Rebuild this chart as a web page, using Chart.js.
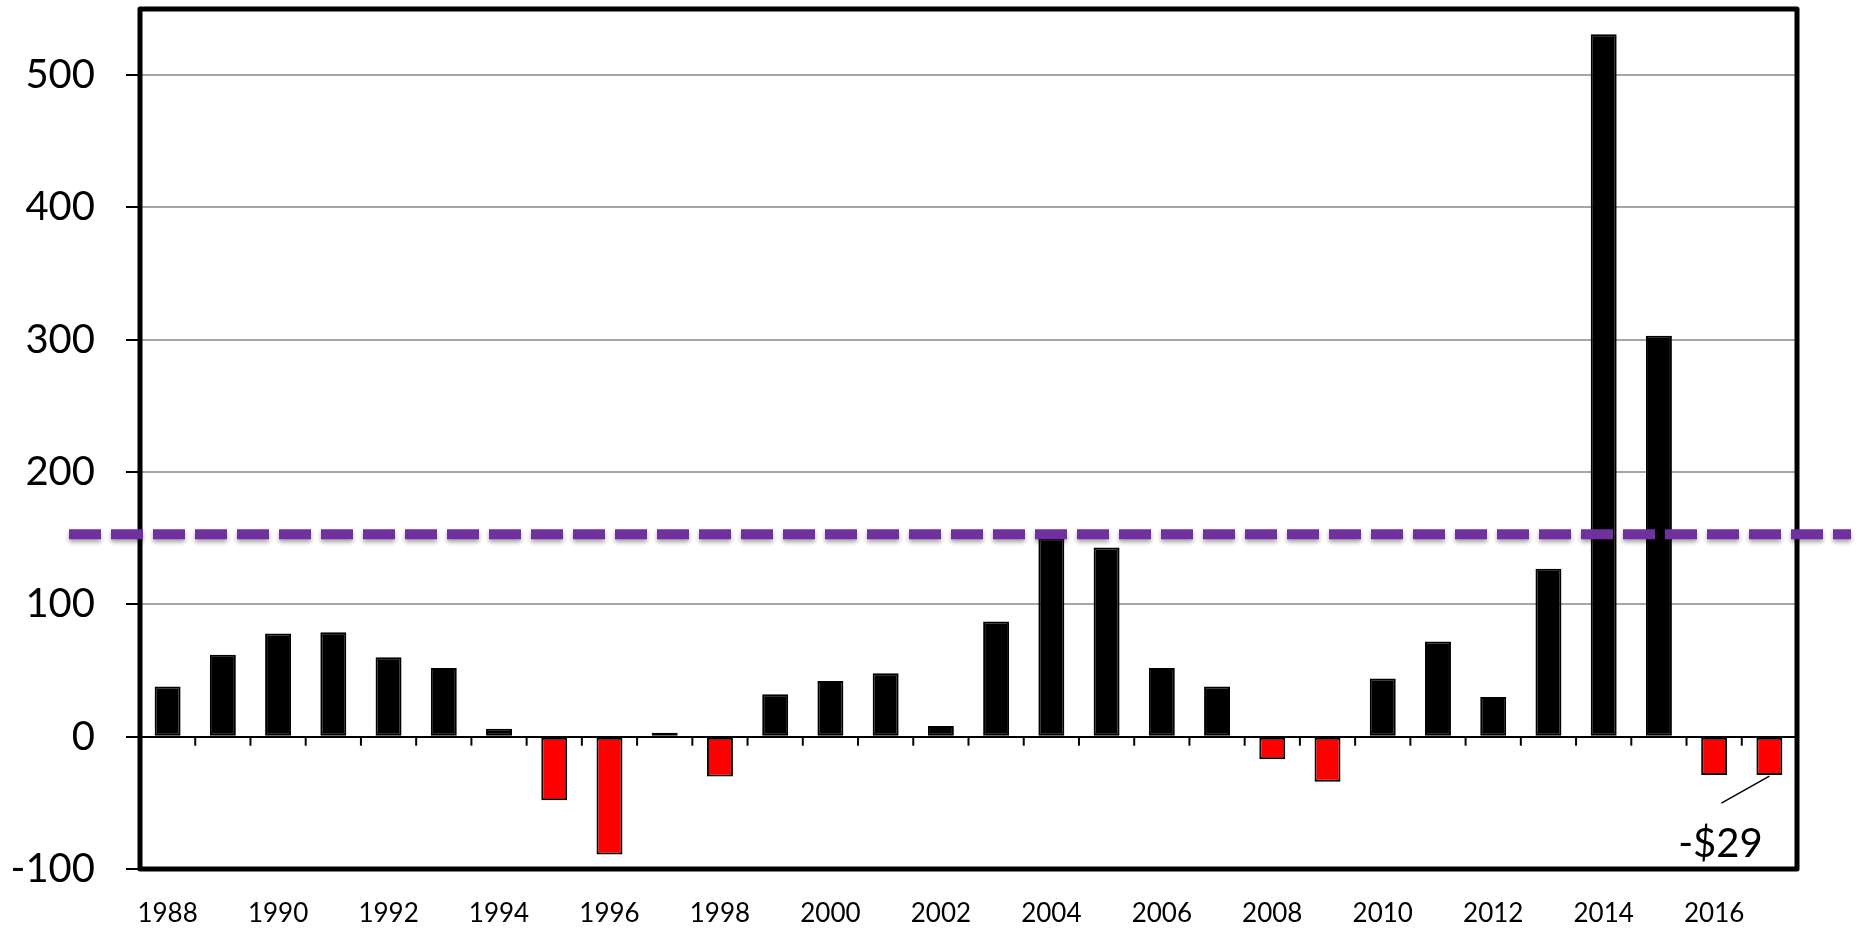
<!DOCTYPE html>
<html>
<head>
<meta charset="utf-8">
<script src="https://cdn.jsdelivr.net/npm/chart.js@4.4.1/dist/chart.umd.min.js"></script>
<style>
  body { margin: 0; background: #fff; }
  #wrap { width: 1865px; height: 930px; }
</style>
</head>
<body>
<div id="wrap"><canvas id="bar-chart"></canvas></div>
<script>
const years = ["1988", "1989", "1990", "1991", "1992", "1993", "1994", "1995", "1996", "1997",
  "1998", "1999", "2000", "2001", "2002", "2003", "2004", "2005", "2006", "2007",
  "2008", "2009", "2010", "2011", "2012", "2013", "2014", "2015", "2016", "2017"];
const values = [38, 62, 78, 79, 60, 52, 6, -48, -89, 3,
  -30, 32, 42, 48, 8, 87, 150, 143, 52, 38,
  -17, -34, 44, 72, 30, 127, 531, 303, -29, -29];
const yTicks = [-100, 0, 100, 200, 300, 400, 500];
const avgLine = 153;
const noteLabel = "-$29";
const noteIndex = 29;

const extras = {
  id: "extras",
  beforeDatasetsDraw(chart) {
    // small ticks on the zero line between years
    const ctx = chart.ctx;
    const x = chart.scales.x;
    const y0 = chart.scales.y.getPixelForValue(0);
    ctx.save();
    ctx.strokeStyle = "#000";
    ctx.lineWidth = 2;
    for (let i = 1; i < years.length; i++) {
      const px = (x.getPixelForValue(i - 1) + x.getPixelForValue(i)) / 2;
      ctx.beginPath();
      ctx.moveTo(px, y0);
      ctx.lineTo(px, y0 + 9);
      ctx.stroke();
    }
    ctx.restore();
  },
  afterDatasetsDraw(chart) {
    const ctx = chart.ctx;
    const a = chart.chartArea;
    const y = chart.scales.y;

    // plot frame
    ctx.save();
    ctx.strokeStyle = "#000";
    ctx.lineWidth = 5;
    ctx.lineJoin = "round";
    ctx.strokeRect(a.left, a.top, a.right - a.left, a.bottom - a.top);
    ctx.restore();

    // dashed average line
    const py = y.getPixelForValue(avgLine);
    ctx.save();
    ctx.strokeStyle = "#7030a0";
    ctx.lineWidth = 10;
    ctx.setLineDash([32, 10]);
    ctx.shadowColor = "rgba(0,0,0,0.35)";
    ctx.shadowBlur = 4;
    ctx.shadowOffsetY = 3;
    ctx.beginPath();
    ctx.moveTo(a.left - 71, py);
    ctx.lineTo(a.right + 54, py);
    ctx.stroke();
    ctx.restore();

    // note on the last bar
    const bar = chart.getDatasetMeta(0).data[noteIndex];
    ctx.save();
    ctx.strokeStyle = "#000";
    ctx.lineWidth = 1.5;
    ctx.beginPath();
    ctx.moveTo(bar.x, bar.y + 1);
    ctx.lineTo(bar.x - 48, bar.y + 28);
    ctx.stroke();
    ctx.fillStyle = "#000";
    ctx.font = "40px Lato";
    ctx.textAlign = "center";
    ctx.textBaseline = "alphabetic";
    ctx.fillText(noteLabel, bar.x - 49, bar.y + 82);
    ctx.restore();
  }
};

new Chart(document.getElementById("bar-chart"), {
  type: "bar",
  data: {
    labels: years,
    datasets: [
      {
        data: values,
        backgroundColor: values.map((v) => (v < 0 ? "#ff0000" : "#000000")),
        borderColor: "#000000",
        borderWidth: 2,
        borderSkipped: false,
        barPercentage: 0.47,
        categoryPercentage: 1,
      },
    ],
  },
  options: {
    responsive: true,
    maintainAspectRatio: false,
    animation: false,
    layout: { padding: { top: 9, right: 68, left: 0, bottom: 0 } },
    plugins: {
      legend: { display: false },
      tooltip: { enabled: false },
    },
    scales: {
      x: {
        grid: { display: false, drawTicks: false },
        border: { display: false },
        ticks: {
          autoSkip: false,
          maxRotation: 0,
          padding: 29,
          color: "#000",
          font: { family: "Lato", size: 26 },
          callback: (v, i) => (i % 2 === 0 ? years[i] : ""),
        },
        afterFit: (s) => {
          s.height = 61;
          s.paddingLeft = 0;
          s.paddingRight = 0;
        },
      },
      y: {
        min: -100,
        max: 550,
        afterBuildTicks: (s) => { s.ticks = yTicks.map((v) => ({ value: v })); },
        grid: {
          color: (c) => (c.tick && c.tick.value === 0 ? "#000" : "#a6a6a6"),
          lineWidth: 2,
          tickColor: "#000",
          tickLength: 14,
        },
        border: { display: false },
        ticks: {
          padding: 31,
          color: "#000",
          font: { family: "Lato", size: 40 },
        },
        afterFit: (s) => {
          s.width = 140;
          s.paddingTop = 0;
          s.paddingBottom = 0;
        },
      },
    },
  },
  plugins: [extras],
});
</script>
</body>
</html>
